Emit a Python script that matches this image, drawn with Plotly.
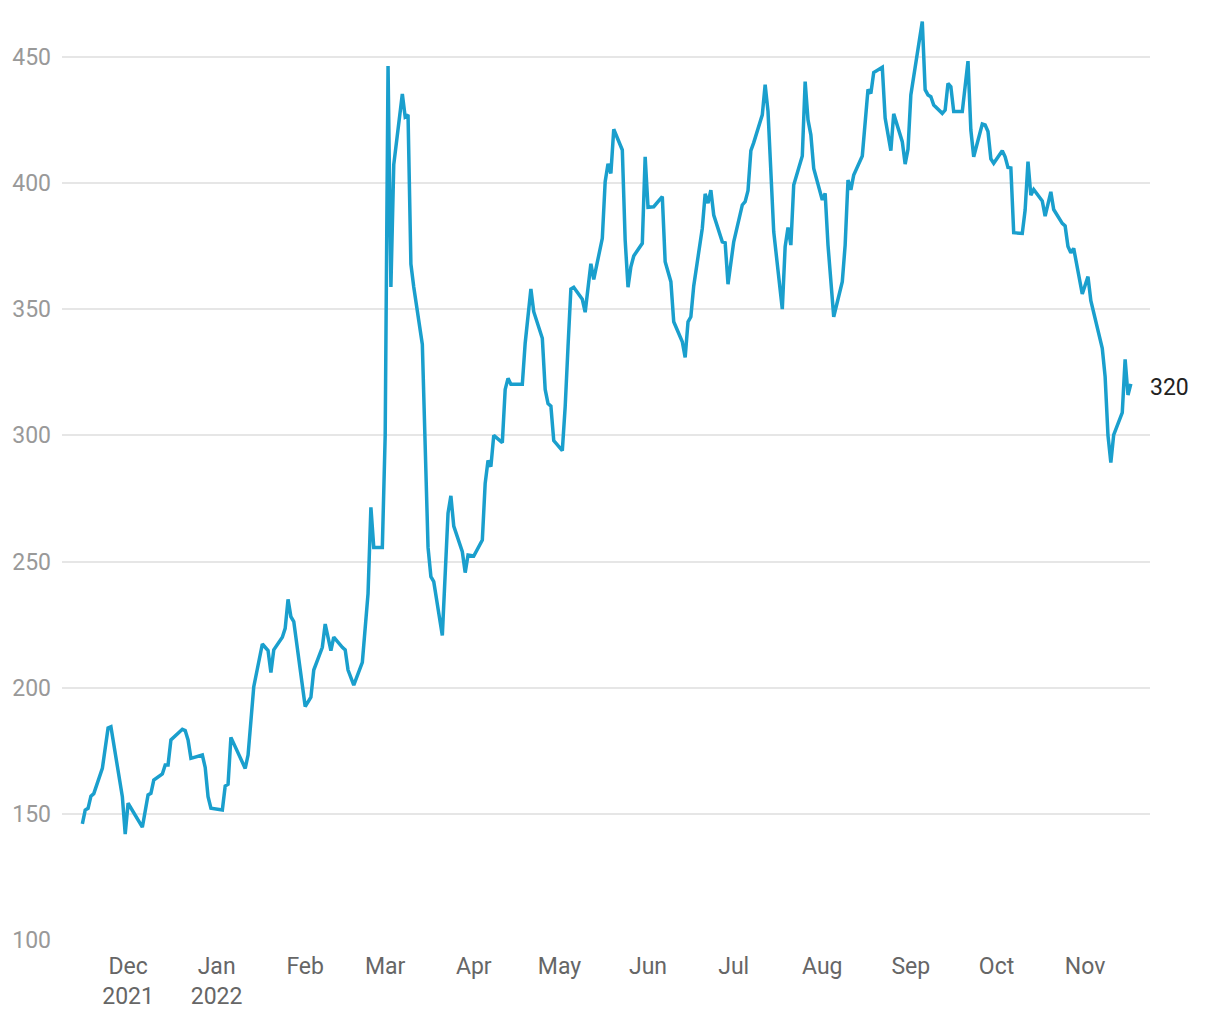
import plotly.graph_objects as go

dates = [
    "2021-11-15", "2021-11-16", "2021-11-17", "2021-11-18", "2021-11-19", "2021-11-22",
    "2021-11-24", "2021-11-25", "2021-11-29", "2021-11-30", "2021-12-01", "2021-12-06",
    "2021-12-08", "2021-12-09", "2021-12-10", "2021-12-13", "2021-12-14", "2021-12-15",
    "2021-12-16", "2021-12-20", "2021-12-21", "2021-12-22", "2021-12-23", "2021-12-27",
    "2021-12-28", "2021-12-29", "2021-12-30", "2022-01-03", "2022-01-04", "2022-01-05",
    "2022-01-06", "2022-01-11", "2022-01-12", "2022-01-13", "2022-01-14", "2022-01-17",
    "2022-01-19", "2022-01-20", "2022-01-21", "2022-01-24", "2022-01-25", "2022-01-26",
    "2022-01-27", "2022-01-28", "2022-02-01", "2022-02-03", "2022-02-04", "2022-02-07",
    "2022-02-08", "2022-02-10", "2022-02-11", "2022-02-14", "2022-02-15", "2022-02-16",
    "2022-02-18", "2022-02-21", "2022-02-23", "2022-02-24", "2022-02-25", "2022-02-28",
    "2022-03-01", "2022-03-02", "2022-03-03", "2022-03-04", "2022-03-07", "2022-03-08",
    "2022-03-09", "2022-03-10", "2022-03-11", "2022-03-14", "2022-03-15", "2022-03-16",
    "2022-03-17", "2022-03-18", "2022-03-21", "2022-03-23", "2022-03-24", "2022-03-25",
    "2022-03-28", "2022-03-29", "2022-03-30", "2022-04-01", "2022-04-04", "2022-04-05",
    "2022-04-06", "2022-04-07", "2022-04-08", "2022-04-11", "2022-04-12", "2022-04-13",
    "2022-04-14", "2022-04-18", "2022-04-19", "2022-04-21", "2022-04-22", "2022-04-25",
    "2022-04-26", "2022-04-27", "2022-04-28", "2022-04-29", "2022-05-02", "2022-05-03",
    "2022-05-04", "2022-05-05", "2022-05-06", "2022-05-09", "2022-05-10", "2022-05-12",
    "2022-05-13", "2022-05-16", "2022-05-17", "2022-05-18", "2022-05-19", "2022-05-20",
    "2022-05-23", "2022-05-24", "2022-05-25", "2022-05-26", "2022-05-27", "2022-05-30",
    "2022-05-31", "2022-06-01", "2022-06-03", "2022-06-06", "2022-06-07", "2022-06-09",
    "2022-06-10", "2022-06-13", "2022-06-14", "2022-06-15", "2022-06-16", "2022-06-17",
    "2022-06-20", "2022-06-21", "2022-06-22", "2022-06-23", "2022-06-24", "2022-06-27",
    "2022-06-28", "2022-06-29", "2022-07-01", "2022-07-04", "2022-07-05", "2022-07-06",
    "2022-07-07", "2022-07-08", "2022-07-11", "2022-07-12", "2022-07-13", "2022-07-15",
    "2022-07-18", "2022-07-19", "2022-07-20", "2022-07-21", "2022-07-22", "2022-07-25",
    "2022-07-26", "2022-07-27", "2022-07-28", "2022-07-29", "2022-08-01", "2022-08-02",
    "2022-08-03", "2022-08-05", "2022-08-08", "2022-08-09", "2022-08-10", "2022-08-11",
    "2022-08-12", "2022-08-15", "2022-08-17", "2022-08-18", "2022-08-19", "2022-08-22",
    "2022-08-23", "2022-08-25", "2022-08-26", "2022-08-29", "2022-08-30", "2022-08-31",
    "2022-09-01", "2022-09-05", "2022-09-06", "2022-09-07", "2022-09-08", "2022-09-09",
    "2022-09-12", "2022-09-13", "2022-09-14", "2022-09-15", "2022-09-16", "2022-09-19",
    "2022-09-21", "2022-09-22", "2022-09-23", "2022-09-26", "2022-09-27", "2022-09-28",
    "2022-09-29", "2022-09-30", "2022-10-03", "2022-10-04", "2022-10-05", "2022-10-06",
    "2022-10-07", "2022-10-10", "2022-10-11", "2022-10-12", "2022-10-13", "2022-10-14",
    "2022-10-17", "2022-10-18", "2022-10-20", "2022-10-21", "2022-10-24", "2022-10-25",
    "2022-10-26", "2022-10-27", "2022-10-28", "2022-10-31", "2022-11-02", "2022-11-03",
    "2022-11-07", "2022-11-08", "2022-11-09", "2022-11-10", "2022-11-11", "2022-11-14",
    "2022-11-15", "2022-11-16", "2022-11-17",
]

values = [
    146.0, 151.5, 152.2, 157.0, 158.0, 168.0,
    184.0, 184.5, 156.8, 142.0, 154.2, 144.7,
    157.5, 158.1, 163.4, 165.8, 169.4, 169.4,
    179.3, 183.5, 183.0, 179.3, 172.0, 173.3,
    168.4, 156.8, 152.2, 151.5, 161.0, 161.7,
    180.3, 168.0, 173.3, 188.5, 200.4, 217.3,
    214.7, 206.0, 215.0, 220.0, 223.5, 235.0,
    228.1, 226.2, 192.5, 196.2, 207.0, 216.0,
    225.2, 214.7, 220.0, 216.0, 215.0, 207.0,
    201.0, 210.0, 237.3, 271.5, 255.6, 255.6,
    300.0, 446.4, 358.8, 407.3, 435.3, 426.2,
    427.0, 367.9, 358.8, 336.0, 300.0, 255.6,
    244.0, 242.0, 220.7, 269.2, 276.0, 264.0,
    253.9, 245.6, 252.6, 252.2, 258.5, 281.0,
    290.0, 287.6, 300.0, 297.1, 318.2, 322.6,
    320.2, 320.2, 336.5, 358.0, 349.0, 338.5,
    318.2, 312.6, 311.6, 297.9, 293.9, 311.3,
    335.2, 358.0, 358.7, 353.9, 348.8, 368.0,
    361.8, 378.1, 400.5, 407.6, 403.8, 421.3,
    413.1, 377.4, 358.7, 366.8, 371.1, 376.1,
    410.4, 390.4, 390.6, 394.6, 368.8, 360.9,
    345.0, 337.1, 330.9, 345.0, 347.0, 359.2,
    382.1, 395.7, 392.0, 397.2, 387.3, 376.7,
    376.3, 359.9, 376.7, 391.3, 392.6, 397.0,
    412.8, 416.0, 427.0, 439.0, 428.4, 380.7,
    350.0, 374.8, 382.4, 375.4, 399.2, 410.7,
    440.2, 425.0, 419.1, 405.8, 393.3, 395.9,
    375.4, 347.0, 360.9, 375.4, 401.2, 397.3,
    403.2, 410.7, 437.1, 435.5, 443.8, 445.9,
    425.7, 412.8, 427.4, 416.4, 407.5, 413.4,
    434.9, 464.0, 437.0, 434.9, 434.2, 430.9,
    427.6, 428.9, 439.5, 438.2, 428.3, 428.3,
    448.3, 421.0, 410.4, 423.4, 423.0, 420.4,
    409.6, 407.8, 412.8, 410.4, 406.2, 406.0,
    380.3, 380.0, 389.3, 408.5, 395.2, 397.4,
    392.9, 386.9, 396.5, 389.5, 384.0, 383.0,
    374.8, 372.4, 374.1, 356.0, 362.9, 353.4,
    334.5, 323.3, 300.0, 289.2, 300.2, 309.0,
    330.1, 316.0, 320.4,
]

last_label = "320"
y_ticks = [100, 150, 200, 250, 300, 350, 400, 450]
x_tick_dates = [
    "2021-12-01", "2022-01-01", "2022-02-01", "2022-03-01", "2022-04-01", "2022-05-01",
    "2022-06-01", "2022-07-01", "2022-08-01", "2022-09-01", "2022-10-01", "2022-11-01",
]
x_tick_labels = [
    "Dec<br>2021", "Jan<br>2022", "Feb", "Mar", "Apr", "May",
    "Jun", "Jul", "Aug", "Sep", "Oct", "Nov",
]

LINE = "#1a9fcd"
FONT = "Roboto, 'Noto Sans', sans-serif"

fig = go.Figure()
fig.add_trace(go.Scatter(
    x=dates, y=values, mode="lines",
    line=dict(color=LINE, width=3.5),
    hoverinfo="skip", showlegend=False,
))

fig.add_annotation(
    x=dates[-1], y=values[-1], text=last_label,
    showarrow=False, xanchor="left", yanchor="middle",
    xshift=17, yshift=-4, font=dict(family=FONT, size=23, color="#222222"),
)

fig.update_layout(
    width=1212, height=1012,
    margin=dict(l=54, r=70, t=11, b=80, pad=0),
    paper_bgcolor="white", plot_bgcolor="white",
    font=dict(family=FONT, size=23, color="#666666"),
    showlegend=False,
)
fig.update_xaxes(
    type="date",
    range=["2021-11-07 21:00", "2022-11-23 17:00"],
    tickvals=x_tick_dates, ticktext=x_tick_labels,
    showgrid=False, zeroline=False, showline=False,
    ticks="", ticklabelstandoff=10, automargin=False,
    tickfont=dict(family=FONT, size=23, color="#666666"),
)
fig.update_yaxes(
    range=[100, 465],
    tickvals=y_ticks,
    showgrid=True, gridcolor="#e6e6e6", gridwidth=2,
    zeroline=False, showline=False, ticks="",
    ticklabelstandoff=10, automargin=False,
    tickfont=dict(family=FONT, size=23, color="#999999"),
)

fig.write_html("out.html")
